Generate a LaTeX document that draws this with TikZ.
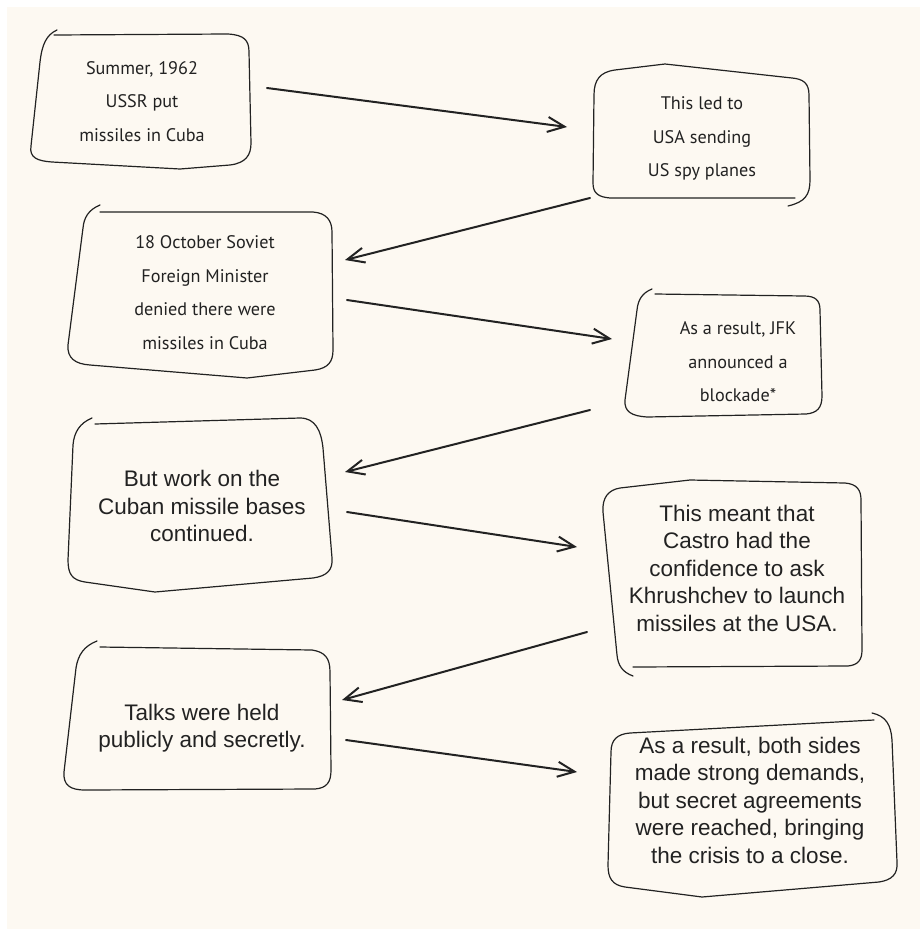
\documentclass[tikz,border=0pt]{standalone}
\usepackage{fontspec}
\setmainfont{Liberation Sans}
\newfontfamily\hfont{PT Sans}
\usetikzlibrary{arrows.meta}
\definecolor{cream}{HTML}{FDF9F2}
\definecolor{ink}{HTML}{222222}
\tikzset{
  sketchbox/.style={draw=ink, line width=1.2pt, line join=round, line cap=round},
  conn/.style={draw=ink, line width=2pt, line cap=round, -{Straight Barb[length=17pt,width=15pt]}},
  smalltext/.style={font=\hfont\fontsize{18.2}{33.5}\selectfont, align=center, text=ink, inner sep=0pt},
  bigtext/.style={font=\fontsize{22.5}{27.5}\selectfont, align=center, text=ink, inner sep=0pt},
}
\begin{document}
\begin{tikzpicture}[x=1pt,y=-1pt]
\useasboundingbox (0,0) rectangle (920,929);
\fill[white] (0,0) rectangle (920,929);
\fill[cream] (7,7) rectangle (921,930);

% text nodes
\node[smalltext] (b1) at (142,101.5) {Summer, 1962\\USSR put\\missiles in Cuba};
\node[smalltext] (b2) at (702,138.5) {This led to\\USA sending\\US spy planes};
\node[smalltext] (b3) at (205,292.5) {18 October Soviet\\Foreign Minister\\denied there were\\missiles in Cuba};
\node[smalltext] (b4) at (738,362) {As a result, JFK\\announced a\\blockade*};
\node[bigtext] (b5) at (202,506) {But work on the\\Cuban missile bases\\continued.};
\node[bigtext] (b6) at (737,568) {This meant that\\Castro had the\\confidence to ask\\Khrushchev to launch\\missiles at the USA.};
\node[bigtext] (b7) at (202,728) {Talks were held\\publicly and secretly.};
\node[bigtext] (b8) at (750,800) {As a result, both sides\\made strong demands,\\but secret agreements\\were reached, bringing\\the crisis to a close.};

% hand-drawn outlines
\draw[sketchbox] (57,30) .. controls (46,35) and (42,45) .. (40,62)
  -- (31,146) .. controls (29,158) and (38,161) .. (52,162)
  -- (180,169) -- (230,165) .. controls (246,163) and (251,155) .. (251,143)
  -- (249,52) .. controls (249,40) and (244,35) .. (228,34) -- (54,35);
\draw[sketchbox] (788,206) .. controls (805,202) and (810,195) .. (810,180)
  -- (809,95) .. controls (809,83) and (803,79) .. (792,78)
  -- (665,64) -- (615,70) .. controls (600,72) and (594,80) .. (594,95)
  -- (593,183) .. controls (593,193) and (598,197) .. (610,198) -- (795,198);
\draw[sketchbox] (100,205) .. controls (88,210) and (84,218) .. (83,228)
  -- (68,345) .. controls (67,358) and (75,364) .. (90,365)
  -- (247,378) -- (315,370) .. controls (328,368) and (333,362) .. (333,350)
  -- (332,232) .. controls (332,220) and (326,213) .. (313,212) -- (100,212);
\draw[sketchbox] (652,289) .. controls (642,293) and (638,300) .. (637,310)
  -- (625,400) .. controls (624,412) and (632,416) .. (647,417)
  -- (806,414) .. controls (817,413) and (822,408) .. (822,396)
  -- (820,310) .. controls (820,300) and (815,296) .. (804,296) -- (655,294);
\draw[sketchbox] (92,418) .. controls (80,423) and (74,432) .. (73,445)
  -- (68,560) .. controls (68,574) and (72,580) .. (85,582)
  -- (155,592) -- (313,578) .. controls (327,576) and (333,570) .. (332,558)
  -- (323,448) .. controls (321,430) and (315,418) .. (300,418) -- (95,424);
\draw[sketchbox] (633,676) .. controls (622,672) and (618,665) .. (617,655)
  -- (603,512) .. controls (602,498) and (608,490) .. (620,488)
  -- (690,480) -- (845,483) .. controls (857,484) and (861,490) .. (861,500)
  -- (862,650) .. controls (862,660) and (858,665) .. (848,666) -- (633,667);
\draw[sketchbox] (97,641) .. controls (84,646) and (78,655) .. (76,668)
  -- (64,772) .. controls (63,785) and (70,790) .. (85,790)
  -- (315,789) .. controls (327,788) and (331,782) .. (331,770)
  -- (330,672) .. controls (330,658) and (325,652) .. (312,650) -- (100,647);
\draw[sketchbox] (872,713) .. controls (886,716) and (891,725) .. (892,740)
  -- (897,862) .. controls (898,874) and (892,880) .. (879,882)
  -- (702,897) -- (625,887) .. controls (612,885) and (608,878) .. (608,865)
  -- (611,752) .. controls (611,740) and (617,734) .. (630,733) -- (874,720);

% connectors
\draw[conn] ([shift={(125,-13.5)}]b1.center) -- ([shift={(-135,-11.5)}]b2.center);
\draw[conn] ([shift={(-112,59.5)}]b2.center) -- ([shift={(140,-32.5)}]b3.center);
\draw[conn] ([shift={(142,7.5)}]b3.center) -- ([shift={(-126,-23)}]b4.center);
\draw[conn] ([shift={(-148,48)}]b4.center) -- ([shift={(143,-34)}]b5.center);
\draw[conn] ([shift={(145,6)}]b5.center) -- ([shift={(-160,-21)}]b6.center);
\draw[conn] ([shift={(-150,64)}]b6.center) -- ([shift={(140,-28)}]b7.center);
\draw[conn] ([shift={(144,12)}]b7.center) -- ([shift={(-173,-28)}]b8.center);
\end{tikzpicture}
\end{document}
